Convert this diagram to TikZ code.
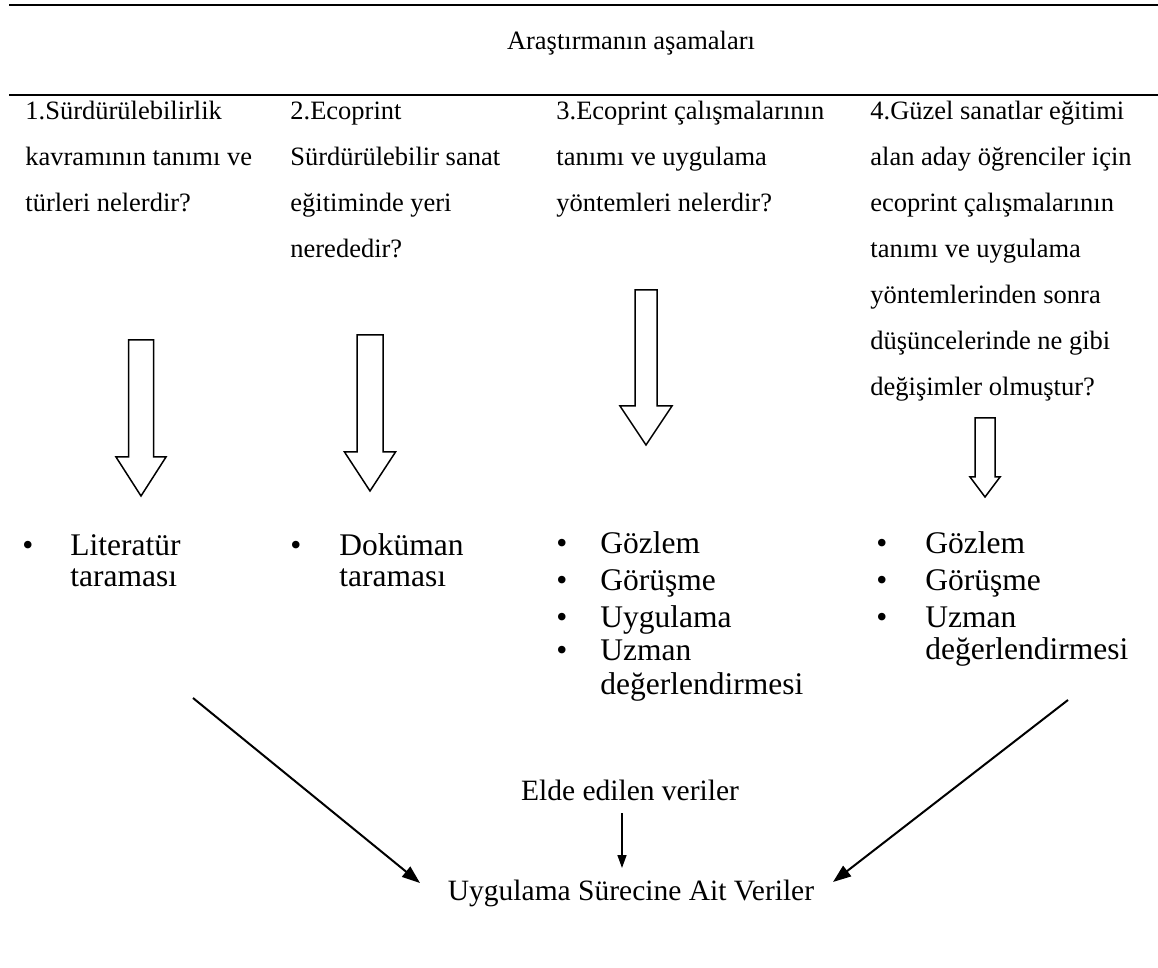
\documentclass[tikz,border=0pt]{standalone}
\usepackage{fontspec}
\setmainfont{Liberation Serif}
\usetikzlibrary{arrows.meta}
\newcommand\blkarrow[7]{% name, cx, top, base, tip, shaft width, head width
  \draw[blk] ({#2-#6/2},#3) coordinate (#1top) -- ({#2+#6/2},#3) -- ({#2+#6/2},#4) -- ({#2+#7/2},#4)
    -- (#2,#5) coordinate (#1tip) -- ({#2-#7/2},#4) -- ({#2-#6/2},#4) -- cycle;}
\begin{document}
\begin{tikzpicture}[x=0.5pt,y=-0.5pt,
  qtext/.style={anchor=base west,inner sep=0pt,font=\fontsize{13.25}{13.25}\selectfont},
  htext/.style={anchor=base,inner sep=0pt,font=\fontsize{13.25}{13.25}\selectfont},
  btext/.style={anchor=base west,inner sep=0pt,font=\fontsize{15.75}{15.75}\selectfont},
  bullet/.style={anchor=base,inner sep=0pt,font=\fontsize{15.75}{15.75}\selectfont},
  ctext/.style={anchor=base,inner sep=0pt,font=\fontsize{14.75}{14.75}\selectfont},
  rule/.style={line width=1.1pt},
  blk/.style={draw,line width=0.75pt,line join=miter},
  conn/.style={line width=1pt,-{Triangle[length=9pt,width=6.5pt]}},
  sconn/.style={line width=0.75pt,-{Triangle[length=6.5pt,width=4.5pt]}}]
\useasboundingbox (0,0) rectangle (1158,968);

% horizontal rules
\coordinate (r1a) at (9,5);  \coordinate (r1b) at (1158,5);
\coordinate (r2a) at (9,95); \coordinate (r2b) at (1158,95);
\draw[rule] (r1a) -- (r1b);
\draw[rule] (r2a) -- (r2b);

\node[htext] (hdr) at (631,50) {Araştırmanın aşamaları};

% column 1
\node[qtext] (c1l1) at (25,120) {1.Sürdürülebilirlik};
\node[qtext] (c1l2) at (25,166) {kavramının tanımı ve};
\node[qtext] (c1l3) at (25,212) {türleri nelerdir?};
% column 2
\node[qtext] (c2l1) at (290,120) {2.Ecoprint};
\node[qtext] (c2l2) at (290,166) {Sürdürülebilir sanat};
\node[qtext] (c2l3) at (290,212) {eğitiminde yeri};
\node[qtext] (c2l4) at (290,258) {nerededir?};
% column 3
\node[qtext] (c3l1) at (556,120) {3.Ecoprint çalışmalarının};
\node[qtext] (c3l2) at (556,166) {tanımı ve uygulama};
\node[qtext] (c3l3) at (556,212) {yöntemleri nelerdir?};
% column 4
\node[qtext] (c4l1) at (870,120) {4.Güzel sanatlar eğitimi};
\node[qtext] (c4l2) at (870,166) {alan aday öğrenciler için};
\node[qtext] (c4l3) at (870,212) {ecoprint çalışmalarının};
\node[qtext] (c4l4) at (870,258) {tanımı ve uygulama};
\node[qtext] (c4l5) at (870,304) {yöntemlerinden sonra};
\node[qtext] (c4l6) at (870,350) {düşüncelerinde ne gibi};
\node[qtext] (c4l7) at (870,396) {değişimler olmuştur?};

% block arrows
\blkarrow{a1}{141}{340}{457}{496}{25}{50}
\blkarrow{a2}{370}{335}{452}{491}{26}{51}
\blkarrow{a3}{646}{290}{406}{445}{22}{52}
\blkarrow{a4}{985}{418}{477}{497}{20}{30}

% bullet lists
\node[bullet] (b1a) at (28,555) {•};
\node[btext] (t1a) at (70,555) {Literatür};
\node[btext] (t1b) at (70,587) {taraması};

\node[bullet] (b2a) at (296,555) {•};
\node[btext] (t2a) at (339,555) {Doküman};
\node[btext] (t2b) at (339,587) {taraması};

\node[bullet] (b3a) at (562,553) {•};
\node[btext] (t3a) at (600,553) {Gözlem};
\node[bullet] (b3b) at (562,590) {•};
\node[btext] (t3b) at (600,590) {Görüşme};
\node[bullet] (b3c) at (562,627) {•};
\node[btext] (t3c) at (600,627) {Uygulama};
\node[bullet] (b3d) at (562,661) {•};
\node[btext] (t3d) at (600,661) {Uzman};
\node[btext] (t3e) at (600,694) {değerlendirmesi};

\node[bullet] (b4a) at (882,553) {•};
\node[btext] (t4a) at (925,553) {Gözlem};
\node[bullet] (b4b) at (882,590) {•};
\node[btext] (t4b) at (925,590) {Görüşme};
\node[bullet] (b4c) at (882,627) {•};
\node[btext] (t4c) at (925,627) {Uzman};
\node[btext] (t4d) at (925,659) {değerlendirmesi};

% bottom
\node[ctext] (elde) at (630,800) {Elde edilen veriler};
\node[ctext] (uyg) at (631,900) {Uygulama Sürecine Ait Veriler};

\coordinate (ls) at (193,698);  \coordinate (le) at (420,883);
\coordinate (rs) at (1068,700); \coordinate (re) at (833,882);
\coordinate (ss) at (622,813);  \coordinate (se) at (622,868);
\draw[conn] (ls) -- (le);
\draw[conn] (rs) -- (re);
\draw[sconn] (ss) -- (se);
\end{tikzpicture}
\end{document}
